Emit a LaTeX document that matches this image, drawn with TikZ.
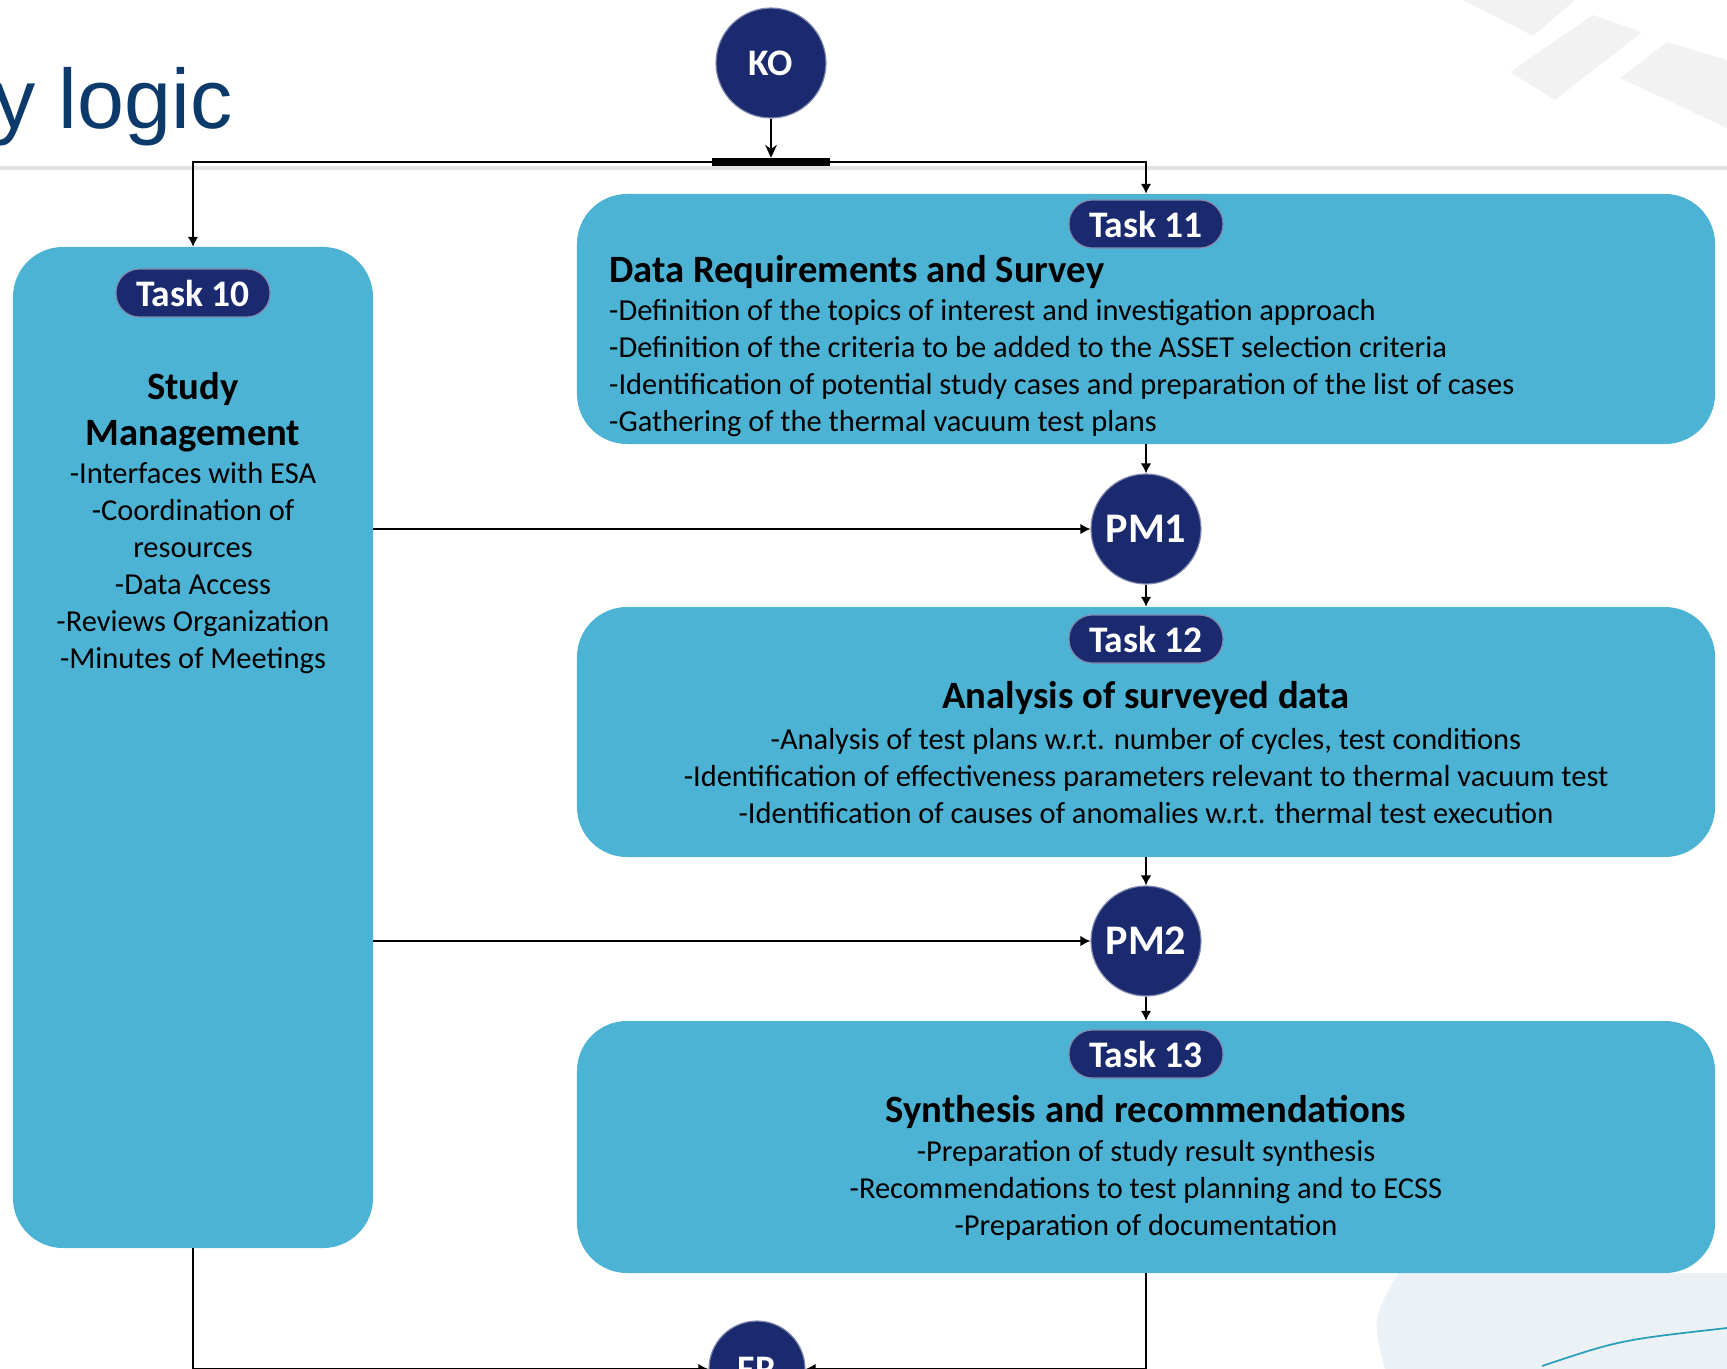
\documentclass[tikz,border=0pt]{standalone}
\usepackage{fontspec}
\setmainfont{Carlito}
\newfontfamily\fontcabecalho{Liberation Sans}
\usetikzlibrary{arrows.meta, positioning, calc, backgrounds}
\usepackage{xcolor}
\definecolor{azul}{RGB}{76, 179, 212}
\definecolor{marinho}{RGB}{27, 42, 110}
\definecolor{azultitulo}{RGB}{11, 58, 107}
\definecolor{cinzafundo}{RGB}{242, 242, 242}
\definecolor{globo}{RGB}{236, 241, 245}
\definecolor{turquesa}{RGB}{40, 160, 185}
\tikzset{
  caixa/.style={
    fill=azul, rounded corners=1.5cm, minimum width=34.14cm, minimum height=7.5cm,
    inner sep=0pt
  },
  etiqueta/.style={
    fill=marinho, draw=marinho!55!white, line width=1pt, rounded corners=0.7cm,
    minimum width=4.62cm, minimum height=1.44cm, inner sep=0pt,
    text=white, font=\fontsize{32}{32}\selectfont\bfseries
  },
  marco/.style={
    circle, fill=marinho, draw=marinho!55!white, line width=1pt, minimum size=3.3cm,
    inner sep=0pt, text=white, font=\fontsize{36}{36}\selectfont\bfseries
  },
  titulo/.style={font=\fontsize{33}{39.3}\selectfont\bfseries, align=center, inner sep=0pt},
  corpo/.style={font=\fontsize{26}{31.6}\selectfont, inner sep=0pt},
  seta/.style={-{Latex[length=8.5pt, width=9pt]}, line width=1.5pt},
  setaKO/.style={-{Stealth[length=11pt, width=10pt]}, line width=1.5pt},
}

\begin{document}
\begin{tikzpicture}[x=0.03cm, y=-0.03cm]
  \useasboundingbox (0,0) rectangle (1727,1369);

  % fundo: faixas do cabecalho, linha e globo
  \fill[cinzafundo] (1463,0) -- (1575,0) -- (1533,36) -- cycle;
  \fill[cinzafundo] (1510,72) -- (1593,15) -- (1642,32) -- (1555,100) -- cycle;
  \fill[cinzafundo] (1620,78) -- (1667,42) -- (1727,60) -- (1727,128) -- cycle;
  \draw[gray!22, line width=3pt] (0,168) -- (1727,168);
  \fill[globo] (1385,1369) .. controls (1372,1320) .. (1398,1273) -- (1727,1273) -- (1727,1369) -- cycle;
  \draw[turquesa, line width=1.5pt] (1542,1366) .. controls (1620,1340) .. (1727,1328);

  \node[anchor=base west, inner sep=0pt, text=azultitulo,
    font=\fontcabecalho\fontsize{72}{72}\selectfont] (cabecalho) at (-7,128) {y logic};

  % inicio
  \node[marco, font=\fontsize{32}{32}\selectfont\bfseries] (ko) at (771,63) {KO};
  \node[fill=black, minimum width=3.54cm, minimum height=0.24cm, inner sep=0pt] (barra) at (771,162) {};

  % caixas das tarefas
  \node[caixa, minimum width=10.8cm, minimum height=30.03cm] (t10) at (193,747.5) {};
  \node[caixa] (t11) at (1146,319) {};
  \node[caixa] (t12) at (1146,732) {};
  \node[caixa, minimum height=7.56cm] (t13) at (1146,1147) {};

  \node[etiqueta] (e10) at (193,293) {Task 10};
  \node[etiqueta] (e11) at (1146,224) {Task 11};
  \node[etiqueta] (e12) at (1146,639) {Task 12};
  \node[etiqueta] (e13) at (1146,1054) {Task 13};

  % marcos
  \node[marco] (pm1) at (1146,529) {PM1};
  \node[marco] (pm2) at (1146,941) {PM2};
  \node[marco, minimum size=2.88cm, font=\fontsize{32}{32}\selectfont\bfseries] (fr) at (757,1369) {FR};

  % textos
  \node[titulo] (s10) at (193,412) {Study\\Management};
  \node[corpo, align=center] (l10) at (193,568)
    {-Interfaces with ESA\\-Coordination of\\resources\\-Data Access\\-Reviews Organization\\-Minutes of Meetings};

  \node[titulo, anchor=west] (s11) at (609,272) {Data Requirements and Survey};
  \node[corpo, align=left, anchor=west] (l11) at (609,368)
    {-Definition of the topics of interest and investigation approach\\
     -Definition of the criteria to be added to the ASSET selection criteria\\
     -Identification of potential study cases and preparation of the list of cases\\
     -Gathering of the thermal vacuum test plans};

  \node[titulo] (s12) at (1146,698) {Analysis of surveyed data};
  \node[corpo, align=center] (l12) at (1146,776)
    {-Analysis of test plans w.r.t. number of cycles, test conditions\\
     -Identification of effectiveness parameters relevant to thermal vacuum test\\
     -Identification of causes of anomalies w.r.t. thermal test execution};

  \node[titulo] (s13) at (1146,1112) {Synthesis and recommendations};
  \node[corpo, align=center] (l13) at (1146,1190)
    {-Preparation of study result synthesis\\
     -Recommendations to test planning and to ECSS\\
     -Preparation of documentation};

  % ligacoes
  \draw[setaKO] (ko) -- (barra);
  \draw[seta] (barra.west) -| (t10.north);
  \draw[seta] (barra.east) -| (t11.north);
  \draw[seta] (t11) -- (pm1);
  \draw[seta] (pm1) -- (t12);
  \draw[seta] (t12) -- (pm2);
  \draw[seta] (pm2) -- (t13);
  \draw[seta] (t10.east |- pm1) -- (pm1);
  \draw[seta] (t10.east |- pm2) -- (pm2);
  \draw[seta] (t10.south) |- (fr);
  \draw[seta] (t13.south) |- (fr);
\end{tikzpicture}
\end{document}
